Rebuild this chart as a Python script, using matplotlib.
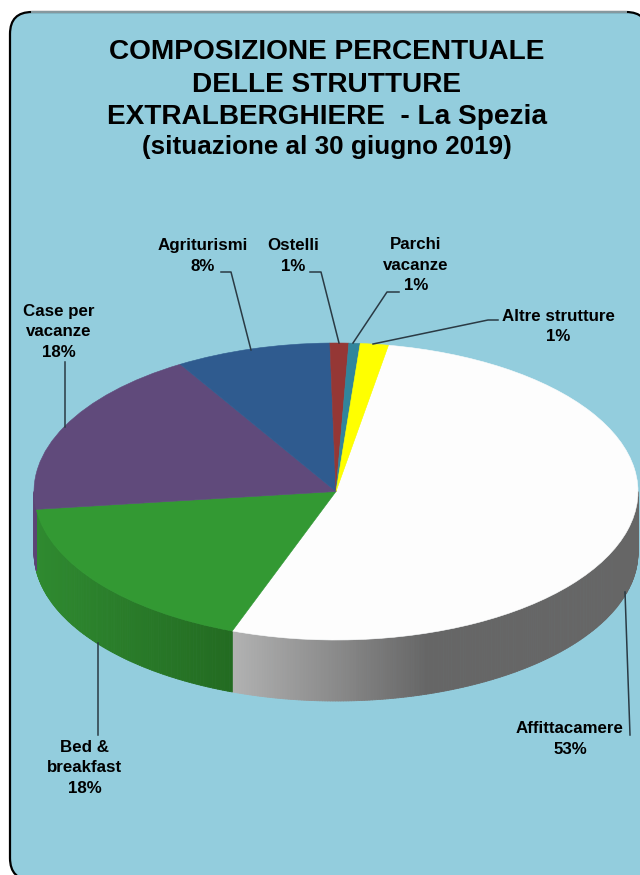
"""Composizione percentuale strutture extralberghiere - torta 3D"""
import matplotlib
matplotlib.use('Agg')
import matplotlib.pyplot as plt
from matplotlib.patches import FancyBboxPatch
from matplotlib.collections import PolyCollection
from matplotlib.colors import to_rgb
import numpy as np

plt.rcParams['font.family'] = ['Liberation Sans', 'DejaVu Sans']

W, H = 640, 875

# dati
categorie = ['Affittacamere', 'Bed & breakfast', 'Case per vacanze', 'Agriturismi',
             'Ostelli', 'Parchi vacanze', 'Altre strutture']
valori = [52.8, 17.5, 18.3, 8.3, 1.0, 0.6, 1.5]
etichette = ['Affittacamere\n53%', 'Bed &\nbreakfast\n18%', 'Case per\nvacanze\n18%',
             'Agriturismi\n8%', 'Ostelli\n1%', 'Parchi\nvacanze\n1%', 'Altre strutture\n1%']
colori = ['#FDFDFD', '#339933', '#604A7B', '#2F5B8F', '#953735', '#31859C', '#FFFF00']
# colore del bordo laterale: sinistra -> destra
colori_lato = [('#B2B2B2', '#666666'), ('#2F8A30', '#236B21'), ('#5E4878', '#5A4373'),
               ('#2F5B8F', '#2F5B8F'), ('#953735', '#953735'), ('#31859C', '#31859C'),
               ('#FFFF00', '#FFFF00')]
# quota del lato su cui si sviluppa la sfumatura
quota_sfumatura = [0.48, 1, 1, 1, 1, 1, 1]
titolo = ['COMPOSIZIONE PERCENTUALE', 'DELLE STRUTTURE',
          'EXTRALBERGHIERE  - La Spezia', '(situazione al 30 giugno 2019)']

START = 80
CX, CY, RX, RY = 336, 491.5, 302, 148.5
DEPTH = 61 / RY

fig = plt.figure(figsize=(W / 100, H / 100), dpi=100, facecolor='white')

# sfondo (coordinate in pixel, y verso il basso)
bg = fig.add_axes([0, 0, 1, 1])
bg.set_xlim(0, W)
bg.set_ylim(H, 0)
bg.axis('off')
bg.add_patch(FancyBboxPatch((10, 12), 638, 868, boxstyle='round,pad=0,rounding_size=22',
                            facecolor='#93CDDD', edgecolor='black', linewidth=1.6,
                            mutation_aspect=1))
bg.plot([32, 626], [12, 12], color='#8A9DA3', lw=1.4, zorder=3)

# torta
ax = fig.add_axes([(CX - RX) / W, 1 - (CY + RY) / H, 2 * RX / W, 2 * RY / H])
ax.patch.set_visible(False)

fine = START
for val, (c0, c1), quota in zip(valori, colori_lato, quota_sfumatura):
    inizio = fine - val / sum(valori) * 360
    t = np.radians(np.arange(inizio, fine + 0.5, 0.5))
    t = t[np.sin(t) <= 0]
    fine = inizio
    if len(t) < 2:
        continue
    x, y = np.cos(t), np.sin(t)
    strisce = [[(x[i], y[i]), (x[i + 1], y[i + 1]), (x[i + 1], y[i + 1] - DEPTH), (x[i], y[i] - DEPTH)]
               for i in range(len(t) - 1)]
    # sfumatura da sinistra a destra, piatta dopo la quota indicata
    f = np.clip((x[:-1] - x.min()) / ((x.max() - x.min()) * quota), 0, 1)
    a, b = np.array(to_rgb(c0)), np.array(to_rgb(c1))
    cols = [a + (b - a) * v for v in f]
    ax.add_collection(PolyCollection(strisce, facecolors=cols, edgecolors=cols, linewidths=0.6, clip_on=False))

wedges, _ = ax.pie(valori, colors=colori, startangle=START, counterclock=False, radius=1, frame=False)
for w, c in zip(wedges, colori):
    w.set_clip_on(False)
    w.set_edgecolor(c)
    w.set_linewidth(0.4)
ax.set_aspect('auto')
ax.set_xlim(-1, 1)
ax.set_ylim(-1, 1)
ax.axis('off')

# testi e linee guida
top = fig.add_axes([0, 0, 1, 1])
top.set_xlim(0, W)
top.set_ylim(H, 0)
top.axis('off')

for riga, y, fs in zip(titolo, [52, 84.5, 116.5, 147], [20.2, 20.2, 20.2, 18.7]):
    top.text(327, y, riga, ha='center', va='center', fontsize=fs, fontweight='bold', color='black')

pos_etichette = [(570, 739), (85, 768), (59, 332), (203, 256), (293, 256), (416, 265), (558, 326.5)]
for testo, (x, y) in zip(etichette, pos_etichette):
    top.text(x, y, testo, ha='center', va='center', fontsize=12.2, fontweight='bold',
             color='black', linespacing=1.42)

guide_x = [[625, 630], [98, 98], [65, 65], [221, 231, 251], [310, 321, 339], [399, 387, 353], [498, 488, 373]]
guide_y = [[592, 735], [643, 735], [362, 427], [272, 272, 350], [272, 272, 343], [292, 292, 343], [320, 320, 344]]
for gx, gy in zip(guide_x, guide_y):
    top.plot(gx, gy, color='#2A3A44', lw=1.1)

fig.savefig('out.png', dpi=100, facecolor='white')
